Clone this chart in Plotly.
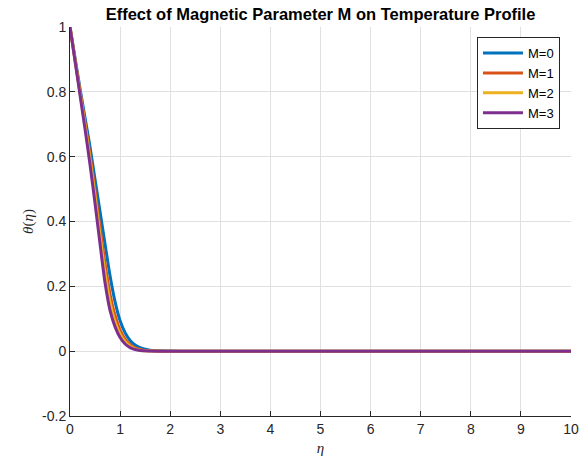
import plotly.graph_objects as go

# ---- data ----
series_names = ["M=0", "M=1", "M=2", "M=3"]
series_colors = ["#0072BD", "#D95319", "#EDB120", "#7E2F8E"]

eta_m0 = [0, 0.1, 0.2, 0.3, 0.4, 0.5, 0.6, 0.7, 0.8, 0.9, 1.0, 1.1, 1.2, 1.3, 1.4, 1.5, 1.6, 1.8, 2.0, 2.2, 10]
theta_m0 = [1, 0.905, 0.81, 0.72, 0.63, 0.53, 0.43, 0.33, 0.232, 0.152, 0.094, 0.057, 0.033, 0.019, 0.011, 0.006, 0.003, 0.001, 0.0003, 0, 0]

eta_m1 = [0, 0.1, 0.2, 0.3, 0.4, 0.5, 0.6, 0.7, 0.8, 0.9, 1.0, 1.1, 1.2, 1.3, 1.4, 1.5, 1.7, 2.0, 10]
theta_m1 = [1, 0.9, 0.8, 0.705, 0.605, 0.495, 0.38, 0.27, 0.175, 0.11, 0.065, 0.037, 0.02, 0.01, 0.005, 0.002, 0.0005, 0, 0]

eta_m2 = [0, 0.1, 0.2, 0.3, 0.4, 0.5, 0.6, 0.7, 0.8, 0.9, 1.0, 1.1, 1.2, 1.3, 1.4, 1.5, 1.7, 1.9, 10]
theta_m2 = [1, 0.9, 0.797, 0.697, 0.592, 0.477, 0.355, 0.24, 0.15, 0.09, 0.052, 0.029, 0.015, 0.007, 0.003, 0.001, 0.0003, 0, 0]

eta_m3 = [0, 0.1, 0.2, 0.3, 0.4, 0.5, 0.6, 0.7, 0.8, 0.9, 1.0, 1.1, 1.2, 1.3, 1.4, 1.6, 1.8, 10]
theta_m3 = [1, 0.895, 0.79, 0.685, 0.575, 0.455, 0.33, 0.21, 0.125, 0.075, 0.042, 0.022, 0.011, 0.005, 0.002, 0.0005, 0, 0]

x_ticks = [0, 1, 2, 3, 4, 5, 6, 7, 8, 9, 10]
x_tick_labels = ["0", "1", "2", "3", "4", "5", "6", "7", "8", "9", "10"]
y_ticks = [-0.2, 0, 0.2, 0.4, 0.6, 0.8, 1]
y_tick_labels = ["-0.2", "0", "0.2", "0.4", "0.6", "0.8", "1"]

title_text = "Effect of Magnetic Parameter M on Temperature Profile"
x_label = "<i>η</i>"
y_label = "<i>θ</i>(<i>η</i>)"

# ---- figure ----
fig = go.Figure()
all_eta = [eta_m0, eta_m1, eta_m2, eta_m3]
all_theta = [theta_m0, theta_m1, theta_m2, theta_m3]
for name, color, xs, ys in zip(series_names, series_colors, all_eta, all_theta):
    fig.add_trace(go.Scatter(
        x=xs, y=ys, mode="lines", name=name,
        line=dict(color=color, width=3, shape="spline", smoothing=0.8),
    ))

axis_common = dict(
    showline=True, linecolor="#262626", linewidth=1,
    showgrid=True, gridcolor="#e0e0e0", gridwidth=1,
    ticks="inside", ticklen=5, tickcolor="#262626", tickwidth=1,
    tickfont=dict(family="Liberation Sans, Arial, sans-serif", size=14, color="#262626"),
    zeroline=False, mirror=False, automargin=False,
)

fig.update_layout(
    width=584, height=464,
    margin=dict(l=70, r=13, t=27, b=48),
    paper_bgcolor="white", plot_bgcolor="white",
    title=dict(
        text="<b>" + title_text + "</b>",
        x=(70 + 571) / 2 / 584, xanchor="center",
        y=1 - 14 / 464, yanchor="middle",
        font=dict(family="Liberation Sans, Arial, sans-serif", size=16.5, color="black"),
    ),
    xaxis=dict(
        range=[0, 10], tickvals=x_ticks, ticktext=x_tick_labels,
        title=dict(text=x_label, standoff=6,
                   font=dict(family="Liberation Serif, Times New Roman, serif", size=15, color="#262626")),
        **axis_common,
    ),
    yaxis=dict(
        range=[-0.2, 1], tickvals=y_ticks, ticktext=y_tick_labels,
        title=dict(text=y_label, standoff=4,
                   font=dict(family="Liberation Serif, Times New Roman, serif", size=15, color="#262626")),
        **axis_common,
    ),
    legend=dict(
        x=0.978, y=0.974, xanchor="right", yanchor="top",
        bgcolor="white", bordercolor="#262626", borderwidth=1,
        font=dict(family="Liberation Sans, Arial, sans-serif", size=13, color="black"),
        itemwidth=40, tracegroupgap=0,
    ),
    showlegend=True,
)

fig.write_html("out.html")
